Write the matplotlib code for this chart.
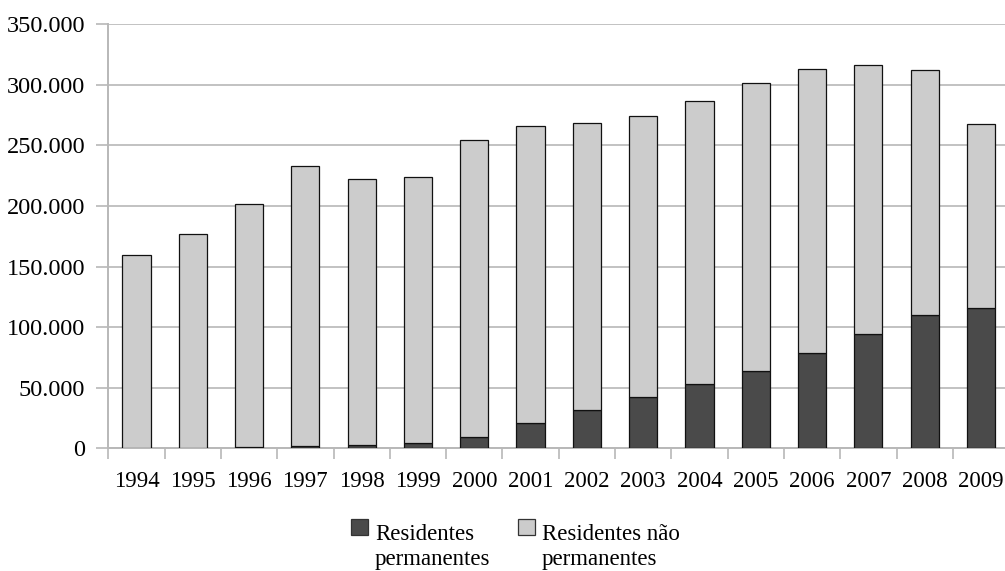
import matplotlib.pyplot as plt
from matplotlib.patches import Rectangle
from matplotlib.ticker import FuncFormatter, MultipleLocator

plt.rcParams["font.family"] = ["Liberation Serif", "DejaVu Serif"]

anos = ["1994", "1995", "1996", "1997", "1998", "1999", "2000", "2001",
        "2002", "2003", "2004", "2005", "2006", "2007", "2008", "2009"]
permanentes = [200, 400, 900, 1800, 2800, 4600, 9100, 20500,
               31300, 42000, 53000, 64000, 78600, 94500, 110400, 116200]
nao_permanentes = [159700, 176200, 200700, 231100, 219400, 219600, 245000, 245400,
                   237000, 232400, 233500, 237900, 234300, 222200, 201900, 151100]

W, H = 1005, 571
fig = plt.figure(figsize=(W / 100, H / 100), dpi=100)
ax = fig.add_axes([108.3 / W, (H - 448.3) / H, 900.8 / W, 424 / H])

x = range(len(anos))
cor_escura = "#4a4a4a"
cor_clara = "#cccccc"
ax.bar(x, permanentes, width=0.5, color=cor_escura, edgecolor="#111111", linewidth=0.9, zorder=3)
ax.bar(x, nao_permanentes, width=0.5, bottom=permanentes, color=cor_clara,
       edgecolor="#111111", linewidth=0.9, zorder=3)

ax.set_xlim(-0.5, len(anos) - 0.5)
ax.set_ylim(0, 350000)
ax.yaxis.set_major_locator(MultipleLocator(50000))
ax.yaxis.set_major_formatter(FuncFormatter(lambda v, p: f"{int(v):,}".replace(",", ".")))
ax.set_xticks(list(x))
ax.set_xticklabels(anos)
ax.set_xticks([i + 0.5 for i in range(-1, len(anos))], minor=True)

grid_cor = "#b8b8b8"
ax.grid(axis="y", color=grid_cor, linewidth=1.2, zorder=0)
ax.set_axisbelow(True)
for side in ["top", "right"]:
    ax.spines[side].set_visible(False)
for side in ["left", "bottom"]:
    ax.spines[side].set_color(grid_cor)
    ax.spines[side].set_linewidth(1.4)

ax.tick_params(axis="y", which="major", length=8.6, width=1.2, color=grid_cor,
               labelsize=17.5, pad=8)
ax.tick_params(axis="x", which="major", length=0, labelsize=16.5, pad=16)
ax.tick_params(axis="x", which="minor", length=8, width=1.2, color=grid_cor)

# legenda desenhada à mão, com o quadrado alinhado à primeira linha
def item(x0, cor, linhas):
    fig.add_artist(Rectangle((x0 / W, (H - 535) / H), 16.5 / W, 16 / H,
                             transform=fig.transFigure, facecolor=cor,
                             edgecolor="#333333", linewidth=0.9))
    fig.text((x0 + 24) / W, (H - 540) / H, linhas[0], fontsize=16.5, va="baseline")
    fig.text((x0 + 24) / W, (H - 565) / H, linhas[1], fontsize=16.5, va="baseline")

item(351, cor_escura, ["Residentes", "permanentes"])
item(518, cor_clara, ["Residentes não", "permanentes"])

fig.savefig("out.png", dpi=100)
